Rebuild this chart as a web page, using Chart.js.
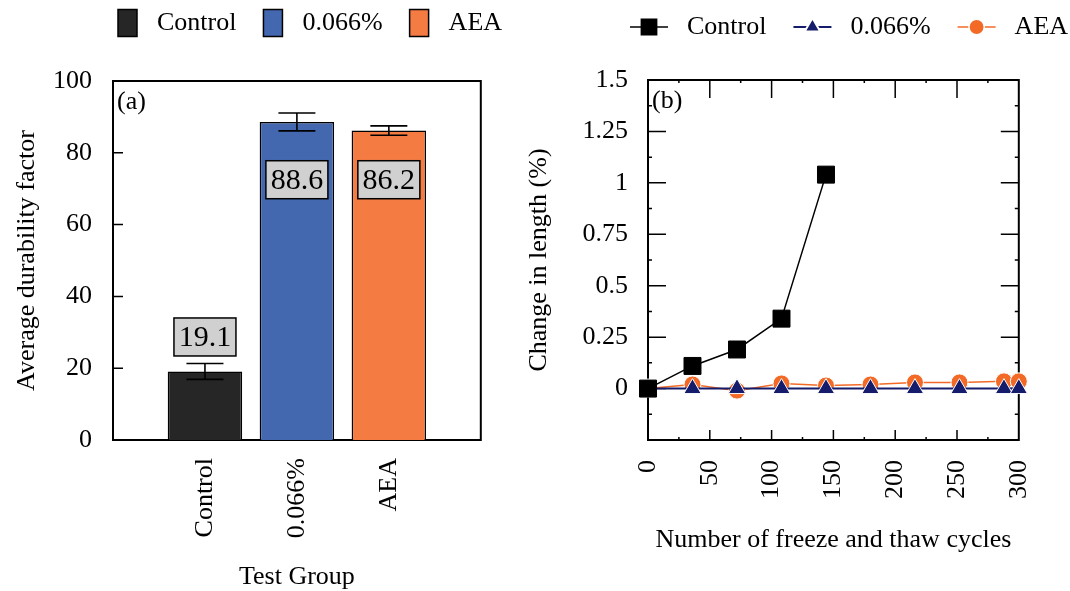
<!DOCTYPE html>
<html>
<head>
<meta charset="utf-8">
<script src="https://cdn.jsdelivr.net/npm/chart.js@4.4.1/dist/chart.umd.min.js"></script>
<style>
  body { margin: 0; background: #fff; }
  #wrap { position: relative; width: 1070px; height: 591px; overflow: hidden; }
  #barChart { position: absolute; left: 0; top: 0; }
  #lineChart { position: absolute; left: 520px; top: 0; }
</style>
</head>
<body>
<div id="wrap">
  <canvas id="barChart" width="530" height="591"></canvas>
  <canvas id="lineChart" width="550" height="591"></canvas>
</div>
<script>
// (a) durability factor per test group
const groups = ['Control', '0.066%', 'AEA'];
const durability = [19.1, 88.6, 86.2];
const durabilityErr = [2.2, 2.5, 1.3];
const barColors = ['#262626', '#4468B0', '#F47B42'];

// (b) change in length vs freeze-thaw cycles
const cycles = [0, 36, 72, 108, 144, 180, 216, 252, 288, 300];
const controlChange = [0, 0.11, 0.19, 0.34, 1.04];
const dosageChange = [0, 0, 0, 0, 0, 0, 0, 0, 0, 0];
const aeaChange = [0, 0.02, -0.01, 0.025, 0.015, 0.02, 0.03, 0.03, 0.035, 0.035];
const lineColors = ['#000000', '#141C6B', '#F26A26'];

const SERIF = '"Liberation Serif", "Times New Roman", serif';
Chart.defaults.font.family = SERIF;
Chart.defaults.font.size = 26;
Chart.defaults.color = '#000';
Chart.defaults.animation = false;

// box round the plot plus inward tick marks
function framePlugin(spec) {
  return {
    id: 'frame',
    beforeDatasetsDraw(chart) {
      const { ctx, chartArea: a, scales } = chart;
      ctx.save();
      ctx.strokeStyle = '#000';
      ctx.lineWidth = 2;
      ctx.strokeRect(a.left, a.top, a.right - a.left, a.bottom - a.top);
      ctx.lineWidth = 1.5;
      ctx.beginPath();
      spec.forEach(s => {
        const scale = scales[s.axis];
        const vals = scale.ticks.map(t => t.value);
        const marks = [];
        vals.forEach((v, i) => {
          marks.push([v, s.major]);
          if (s.minor && i > 0) marks.push([(v + vals[i - 1]) / 2, s.minor]);
        });
        marks.forEach(([v, len]) => {
          const p = scale.getPixelForValue(v);
          if (scale.isHorizontal()) {
            if (p <= a.left + 1 || p >= a.right - 1) return;
            if (len[0]) { ctx.moveTo(p, a.bottom); ctx.lineTo(p, a.bottom - len[0]); }
            if (len[1]) { ctx.moveTo(p, a.top); ctx.lineTo(p, a.top + len[1]); }
          } else {
            if (p >= a.bottom - 1 || p <= a.top + 1) return;
            if (len[0]) { ctx.moveTo(a.left, p); ctx.lineTo(a.left + len[0], p); }
            if (len[1]) { ctx.moveTo(a.right, p); ctx.lineTo(a.right - len[1], p); }
          }
        });
      });
      ctx.stroke();
      ctx.restore();
    }
  };
}

function panelTag(text) {
  return {
    id: 'panelTag',
    afterDraw(chart) {
      const { ctx, chartArea: a } = chart;
      ctx.save();
      ctx.font = '26px ' + SERIF;
      ctx.fillStyle = '#000';
      ctx.textBaseline = 'middle';
      ctx.fillText(text, a.left + 4, a.top + 21);
      ctx.restore();
    }
  };
}

const errorBars = {
  id: 'errorBars',
  afterDatasetsDraw(chart) {
    const { ctx, scales: { y } } = chart;
    const bars = chart.getDatasetMeta(0).data;
    ctx.save();
    ctx.strokeStyle = '#000';
    ctx.lineWidth = 1.6;
    ctx.beginPath();
    durability.forEach((v, i) => {
      const x = bars[i + 1].x;
      const top = y.getPixelForValue(v + durabilityErr[i]);
      const bot = y.getPixelForValue(v - durabilityErr[i]);
      ctx.moveTo(x, top); ctx.lineTo(x, bot);
      ctx.moveTo(x - 18.5, top); ctx.lineTo(x + 18.5, top);
      ctx.moveTo(x - 18.5, bot); ctx.lineTo(x + 18.5, bot);
    });
    ctx.stroke();
    ctx.restore();
  }
};

const valueBoxes = {
  id: 'valueBoxes',
  afterDatasetsDraw(chart) {
    const { ctx, scales: { y } } = chart;
    const bars = chart.getDatasetMeta(0).data;
    ctx.save();
    ctx.font = '30px ' + SERIF;
    ctx.textAlign = 'center';
    ctx.textBaseline = 'middle';
    durability.forEach((v, i) => {
      const x = bars[i + 1].x;
      // short bar: label sits above the error bar; tall bars: labels line up inside
      const at = v > 50 ? 72.5 : v + durabilityErr[i] + 7.4;
      const cy = y.getPixelForValue(at);
      ctx.fillStyle = '#D0D0D0';
      ctx.fillRect(x - 31, cy - 19, 62, 38);
      ctx.strokeStyle = '#000';
      ctx.lineWidth = 1.5;
      ctx.strokeRect(x - 31, cy - 19, 62, 38);
      ctx.fillStyle = '#000';
      ctx.fillText(v.toFixed(1), x, cy + 1);
    });
    ctx.restore();
  }
};

const barKey = {
  id: 'barKey',
  afterDraw(chart) {
    const ctx = chart.ctx;
    let x = 118;
    const mid = 23;
    ctx.save();
    ctx.font = '26px ' + SERIF;
    ctx.textBaseline = 'middle';
    groups.forEach((g, i) => {
      ctx.fillStyle = barColors[i];
      ctx.fillRect(x, mid - 13.5, 19, 27);
      ctx.strokeStyle = '#000';
      ctx.lineWidth = 1.5;
      ctx.strokeRect(x, mid - 13.5, 19, 27);
      x += 39;
      ctx.fillStyle = '#000';
      ctx.fillText(g, x, mid);
      x += ctx.measureText(g).width + 27;
    });
    ctx.restore();
  }
};

const lineKey = {
  id: 'lineKey',
  afterDraw(chart) {
    const ctx = chart.ctx;
    let x = 110;
    const mid = 27;
    ctx.save();
    ctx.font = '26px ' + SERIF;
    ctx.textBaseline = 'middle';
    chart.data.datasets.forEach(ds => {
      ctx.strokeStyle = ds.borderColor;
      ctx.lineWidth = ds.borderWidth;
      ctx.beginPath();
      ctx.moveTo(x, mid); ctx.lineTo(x + 38, mid);
      ctx.stroke();
      ctx.fillStyle = ds.pointBackgroundColor;
      ctx.strokeStyle = ds.pointBorderColor;
      Chart.helpers.drawPoint(ctx, {
        pointStyle: ds.pointStyle, radius: ds.pointRadius * 0.9,
        rotation: 0, borderWidth: ds.pointBorderWidth
      }, x + 19, mid);
      x += 57;
      ctx.fillStyle = '#000';
      ctx.fillText(ds.label, x, mid);
      x += ctx.measureText(ds.label).width + 27;
    });
    ctx.restore();
  }
};

// bar chart: one empty slot on each side so the bars sit at 1/4, 2/4, 3/4
new Chart(document.getElementById('barChart'), {
  type: 'bar',
  data: {
    labels: ['', ...groups, ''],
    datasets: [{
      data: [null, ...durability, null],
      backgroundColor: ['#fff', ...barColors, '#fff'],
      borderColor: '#000',
      borderWidth: 1.5,
      borderSkipped: 'start',
      barPercentage: 0.81,
      categoryPercentage: 1
    }]
  },
  options: {
    responsive: false,
    layout: { padding: { left: 0, top: 81, right: 47, bottom: 0 } },
    plugins: { legend: { display: false }, tooltip: { enabled: false } },
    scales: {
      x: {
        offset: false,
        grid: { display: false, drawTicks: false, offset: false },
        border: { display: false },
        ticks: { minRotation: 90, maxRotation: 90, padding: 18, autoSkip: false },
        title: { display: true, text: 'Test Group', padding: { top: 0, bottom: -2 } },
        afterFit(s) { s.height = 151; }
      },
      y: {
        min: 0, max: 100,
        grid: { display: false, drawTicks: false },
        border: { display: false },
        ticks: { stepSize: 20, padding: 21 },
        title: { display: true, text: 'Average durability factor', padding: { top: 12, bottom: 0 } },
        afterFit(s) { s.width = 113; }
      }
    }
  },
  plugins: [framePlugin([{ axis: 'y', major: [10, 0] }]), errorBars, valueBoxes, barKey, panelTag('(a)')]
});

const toPoints = vals => vals.map((y, i) => ({ x: cycles[i], y }));

new Chart(document.getElementById('lineChart'), {
  type: 'line',
  data: {
    datasets: [
      {
        label: 'Control', data: toPoints(controlChange),
        borderColor: lineColors[0], borderWidth: 1.5,
        pointStyle: 'rect', pointRadius: 12,
        pointBackgroundColor: lineColors[0], pointBorderColor: '#000', pointBorderWidth: 1,
        clip: false
      },
      {
        label: '0.066%', data: toPoints(dosageChange),
        borderColor: lineColors[1], borderWidth: 2,
        pointStyle: 'triangle', pointRadius: 10,
        pointBackgroundColor: lineColors[1], pointBorderColor: '#fff', pointBorderWidth: 1,
        clip: false
      },
      {
        label: 'AEA', data: toPoints(aeaChange),
        borderColor: lineColors[2], borderWidth: 1.5,
        pointStyle: 'circle', pointRadius: 8.5,
        pointBackgroundColor: lineColors[2], pointBorderColor: '#fff', pointBorderWidth: 1,
        clip: false
      }
    ]
  },
  options: {
    responsive: false,
    layout: { padding: { left: 0, top: 80, right: 51, bottom: 0 } },
    plugins: { legend: { display: false }, tooltip: { enabled: false } },
    scales: {
      x: {
        type: 'linear', min: 0, max: 300,
        grid: { display: false, drawTicks: false },
        border: { display: false },
        ticks: { stepSize: 50, minRotation: 90, maxRotation: 90, padding: 20 },
        title: { display: true, text: 'Number of freeze and thaw cycles', padding: { top: 0, bottom: 35 } },
        afterFit(s) { s.height = 151; }
      },
      y: {
        min: -0.25, max: 1.5,
        grid: { display: false, drawTicks: false },
        border: { display: false },
        ticks: {
          stepSize: 0.25, padding: 20,
          callback: v => (v < 0 ? '' : String(+v.toFixed(2)))
        },
        title: { display: true, text: 'Change in length (%)', padding: { top: 4, bottom: 0 } },
        afterFit(s) { s.width = 128; }
      }
    }
  },
  plugins: [
    framePlugin([
      { axis: 'x', major: [10, 18], minor: [3, 3] },
      { axis: 'y', major: [18, 18], minor: [4, 4] }
    ]),
    lineKey, panelTag('(b)')
  ]
});
</script>
</body>
</html>
